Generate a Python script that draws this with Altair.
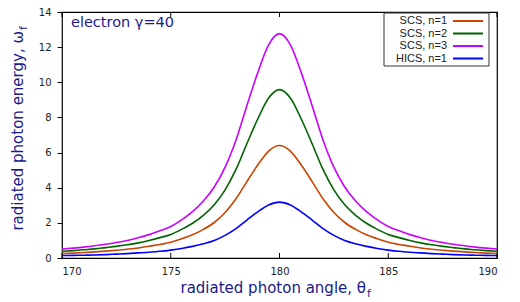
import altair as alt
import pandas as pd

# ---- data ----
theta = [170.0, 170.5, 171.0, 171.5, 172.0, 172.5, 173.0, 173.5, 174.0, 174.5,
         175.0, 175.5, 176.0, 176.5, 177.0, 177.5, 178.0, 178.5, 179.0, 179.5,
         180.0, 180.5, 181.0, 181.5, 182.0, 182.5, 183.0, 183.5, 184.0, 184.5,
         185.0, 185.5, 186.0, 186.5, 187.0, 187.5, 188.0, 188.5, 189.0, 189.5, 190.0]

scs_n1 = [0.26, 0.28, 0.31, 0.35, 0.39, 0.44, 0.50, 0.57, 0.67, 0.77,
          0.90, 1.09, 1.32, 1.63, 2.02, 2.59, 3.37, 4.35, 5.29, 6.08,
          6.40, 6.08, 5.29, 4.35, 3.37, 2.59, 2.02, 1.63, 1.32, 1.09,
          0.90, 0.77, 0.67, 0.57, 0.50, 0.44, 0.39, 0.35, 0.31, 0.28, 0.26]

scs_n2 = [0.38, 0.42, 0.47, 0.52, 0.59, 0.66, 0.75, 0.86, 1.00, 1.16,
          1.34, 1.63, 1.98, 2.43, 3.03, 3.88, 5.04, 6.50, 7.91, 9.10,
          9.58, 9.10, 7.91, 6.50, 5.04, 3.88, 3.03, 2.43, 1.98, 1.63,
          1.34, 1.16, 1.00, 0.86, 0.75, 0.66, 0.59, 0.52, 0.47, 0.42, 0.38]

scs_n3 = [0.51, 0.56, 0.62, 0.70, 0.78, 0.88, 1.00, 1.15, 1.33, 1.55,
          1.79, 2.17, 2.64, 3.24, 4.04, 5.17, 6.72, 8.67, 10.55, 12.13,
          12.77, 12.13, 10.55, 8.67, 6.72, 5.17, 4.04, 3.24, 2.64, 2.17,
          1.79, 1.55, 1.33, 1.15, 1.00, 0.88, 0.78, 0.70, 0.62, 0.56, 0.51]

hics_n1 = [0.14, 0.15, 0.16, 0.17, 0.19, 0.22, 0.25, 0.29, 0.33, 0.38,
           0.45, 0.54, 0.66, 0.81, 1.00, 1.29, 1.67, 2.16, 2.63, 3.02,
           3.18, 3.02, 2.63, 2.16, 1.67, 1.29, 1.00, 0.81, 0.66, 0.54,
           0.45, 0.38, 0.33, 0.29, 0.25, 0.22, 0.19, 0.17, 0.16, 0.15, 0.14]

series_names = ["SCS, n=1", "SCS, n=2", "SCS, n=3", "HICS, n=1"]
series_colors = ["#cc4400", "#006400", "#cc00ff", "#0000ff"]
x_ticks = [170, 175, 180, 185, 190]
y_ticks = [0, 2, 4, 6, 8, 10, 12, 14]

rows = []
for name, vals in zip(series_names, [scs_n1, scs_n2, scs_n3, hics_n1]):
    for t, v in zip(theta, vals):
        rows.append({"theta": t, "omega": v, "series": name})
df = pd.DataFrame(rows)

W, H = 435, 246
TITLE_COLOR = "#1a1a8c"
FONT = "DejaVu Sans"

xscale = alt.Scale(domain=[170, 190], nice=False, zero=False)
yscale = alt.Scale(domain=[0, 14], nice=False)

lines = alt.Chart(df).mark_line(strokeWidth=1.6, clip=True, interpolate="monotone").encode(
    x=alt.X("theta:Q", scale=xscale,
            axis=alt.Axis(values=x_ticks, title=None, ticks=False, domain=False, grid=False,
                          labelPadding=8, labelFont=FONT, labelFontSize=10, labelColor="#222",
                          format="d")),
    y=alt.Y("omega:Q", scale=yscale,
            axis=alt.Axis(values=y_ticks, title=None, tickSize=5, domain=False, grid=False,
                          tickColor="#000", labelPadding=6, labelFont=FONT, labelFontSize=10,
                          labelColor="#222")),
    color=alt.Color("series:N", scale=alt.Scale(domain=series_names, range=series_colors),
                    legend=None),
    detail="series:N",
)

tick_df = pd.DataFrame({"t": x_ticks})
bottom_ticks = alt.Chart(tick_df).mark_rule(color="#000", strokeWidth=1).encode(
    x=alt.X("t:Q", scale=xscale), y=alt.value(H - 5), y2=alt.value(H))
top_ticks = alt.Chart(tick_df).mark_rule(color="#000", strokeWidth=1).encode(
    x=alt.X("t:Q", scale=xscale), y=alt.value(0), y2=alt.value(5))

one = pd.DataFrame({"k": [0]})

def txt(s, x, y, size, align="left", angle=0, color=TITLE_COLOR, font=FONT, baseline="alphabetic"):
    return alt.Chart(one).mark_text(
        text=s, align=align, baseline=baseline, angle=angle, font=font, fontSize=size, color=color
    ).encode(x=alt.value(x), y=alt.value(y))

xtitle_main = txt("radiated photon angle, θ", 304, 281, 15, align="right")
xtitle_sub = txt("f", 305, 284.5, 11)
ytitle_main = txt("radiated photon energy, ω", -39, 19, 15, align="right", angle=270)
ytitle_sub = txt("f", -35.5, 18, 11, align="left", angle=270)
label_g = txt("electron γ=40", 9, 15, 14.5)

legend_box = alt.Chart(one).mark_rect(fill="white", stroke="#333", strokeWidth=1).encode(
    x=alt.value(322), x2=alt.value(427), y=alt.value(1), y2=alt.value(54))

legend_layers = []
row_y = [9, 21.5, 34, 46.5]
for name, col, yy in zip(series_names, series_colors, row_y):
    legend_layers.append(txt(name, 385, yy, 11, align="right", color="#222",
                             font="Liberation Sans", baseline="middle"))
    legend_layers.append(alt.Chart(one).mark_rule(color=col, strokeWidth=2).encode(
        x=alt.value(391), x2=alt.value(421), y=alt.value(yy), y2=alt.value(yy)))

chart = alt.layer(
    lines, bottom_ticks, top_ticks, xtitle_main, xtitle_sub, ytitle_main, ytitle_sub,
    label_g, legend_box, *legend_layers
).properties(
    width=W, height=H,
    padding={"left": 54, "top": 4, "right": 15, "bottom": 42},
    autosize=alt.AutoSizeParams(type="none"),
).configure_view(stroke="#000", strokeWidth=1.2)

chart.save("out.html", embed_options={"renderer": "svg", "actions": False})
